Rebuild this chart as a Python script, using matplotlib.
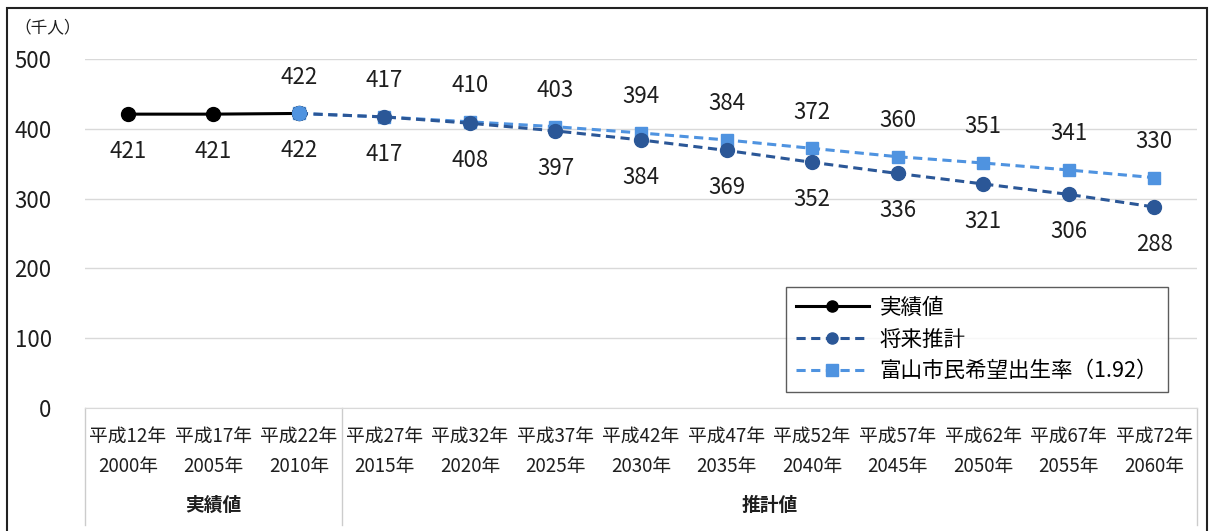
import matplotlib
matplotlib.use("Agg")
import matplotlib.pyplot as plt
import matplotlib.transforms as mtransforms
from matplotlib.patches import Rectangle

plt.rcParams['font.family'] = ['Noto Sans CJK JP', 'DejaVu Sans']

categories = ["平成12年\n2000年", "平成17年\n2005年", "平成22年\n2010年", "平成27年\n2015年",
              "平成32年\n2020年", "平成37年\n2025年", "平成42年\n2030年", "平成47年\n2035年",
              "平成52年\n2040年", "平成57年\n2045年", "平成62年\n2050年", "平成67年\n2055年",
              "平成72年\n2060年"]
actual = [421, 421, 422]
projection = [422, 417, 408, 397, 384, 369, 352, 336, 321, 306, 288]
desired = [422, 417, 410, 403, 394, 384, 372, 360, 351, 341, 330]
series_names = ["実績値", "将来推計", "富山市民希望出生率（1.92）"]
group_names = ["実績値", "推計値"]
yticks = [0, 100, 200, 300, 400, 500]

W, H = 1212, 531
fig = plt.figure(figsize=(W / 100, H / 100), dpi=100)
ax = fig.add_axes([85 / W, (H - 408) / H, (1197 - 85) / W, (408 - 59) / H])

n = len(categories)
x_all = list(range(n))
x_act = x_all[:len(actual)]
x_proj = x_all[len(actual) - 1:]

dark = "#2b5797"
light = "#4f93e0"
txt = "#1e1e1e"

ax.plot(x_act, actual, color="black", lw=2.2, marker="o", ms=10, label=series_names[0], zorder=4)
ax.plot(x_proj, projection, color=dark, lw=2.2, ls=(0, (3, 1.8)), marker="o", ms=10,
        label=series_names[1], zorder=3)
ax.plot(x_proj, desired, color=light, lw=2.2, ls=(0, (3, 1.8)), marker="s", ms=8,
        label=series_names[2], zorder=2)
# first projection point shown as light circle
ax.plot(x_proj[:1], desired[:1], ls="none", marker="o", ms=10, color=light, zorder=5)

lab_fs = 16
for xi, v in zip(x_act, actual):
    ax.annotate(f"{v}", (xi, v), xytext=(0, -27), textcoords="offset points",
                ha="center", va="center", fontsize=lab_fs, color=txt)
for xi, v in zip(x_proj[1:], projection[1:]):
    ax.annotate(f"{v}", (xi, v), xytext=(0, -27), textcoords="offset points",
                ha="center", va="center", fontsize=lab_fs, color=txt)
for xi, v in zip(x_proj, desired):
    ax.annotate(f"{v}", (xi, v), xytext=(0, 26), textcoords="offset points",
                ha="center", va="center", fontsize=lab_fs, color=txt)

ax.set_xlim(-0.5, n - 0.5)
ax.set_ylim(0, 500)
ax.set_yticks(yticks)
ax.set_yticklabels([str(t) for t in yticks], fontsize=16, color=txt)
ax.yaxis.grid(True, color="#d9d9d9", lw=1)
ax.set_axisbelow(True)
ax.tick_params(axis="y", length=0, pad=24)
ax.set_xticks(x_all)
ax.set_xticklabels(categories, fontsize=13.5, color=txt, linespacing=1.55)
ax.tick_params(axis="x", length=0, pad=13)
for s in ["top", "right", "left"]:
    ax.spines[s].set_visible(False)
ax.spines["bottom"].set_color("#d9d9d9")

# group separators and labels
trans = mtransforms.blended_transform_factory(ax.transData, ax.transAxes)
seps = [-0.5, len(actual) - 0.5, n - 0.5]
for sx in seps:
    ax.plot([sx, sx], [0, -117 / 349], color="#cccccc", lw=1, transform=trans, clip_on=False)
ax.text((0 + len(actual) - 1) / 2, -97 / 349, group_names[0], transform=trans,
        ha="center", va="center", fontsize=13.5, color=txt, fontweight="bold")
ax.text((len(actual) + n - 1) / 2, -97 / 349, group_names[1], transform=trans,
        ha="center", va="center", fontsize=13.5, color=txt, fontweight="bold")

fig.text(14 / W, 1 - 28 / H, "（千人）", fontsize=12, ha="left", va="center", color=txt)

leg = ax.legend(loc="lower left", bbox_to_anchor=((786 - 85) / 1112, 16 / 349),
                prop={"size": 15.5},
                frameon=True, fancybox=False, edgecolor="#333333", handlelength=3.4,
                borderpad=0.45, labelspacing=0.45, handletextpad=0.5, borderaxespad=0)
leg.get_frame().set_linewidth(1)
for h in leg.legend_handles:
    h.set_markersize(8)

fig.patches.append(Rectangle((7 / W, -0.01), 1200 / W, 1 - 8 / H + 0.01, transform=fig.transFigure,
                             fill=False, edgecolor="#222222", lw=1.5))

fig.savefig("out.png", dpi=100)
